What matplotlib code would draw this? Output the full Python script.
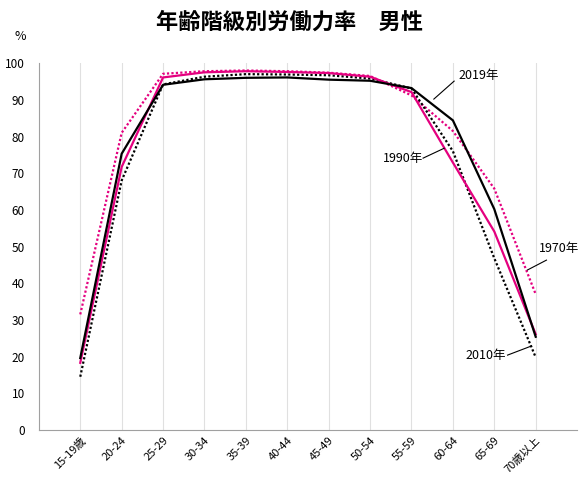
import matplotlib
matplotlib.use('Agg')
import matplotlib.pyplot as plt

plt.rcParams['font.family'] = ['Noto Sans CJK JP', 'DejaVu Sans']

# age groups
ages = ['15-19歳', '20-24', '25-29', '30-34', '35-39', '40-44', '45-49',
        '50-54', '55-59', '60-64', '65-69', '70歳以上']

# labour force participation rate (%), men
rate_1970 = [31.5, 81.0, 97.1, 97.8, 98.0, 97.8, 97.4, 96.5, 91.2, 81.5, 65.8, 37.0]
rate_1990 = [18.3, 71.7, 96.1, 97.5, 97.8, 97.6, 97.3, 96.3, 92.1, 72.9, 54.1, 26.1]
rate_2010 = [14.5, 68.0, 94.2, 96.3, 97.0, 96.9, 96.7, 95.8, 93.1, 76.0, 46.8, 19.8]
rate_2019 = [19.6, 75.3, 94.1, 95.6, 96.0, 96.1, 95.5, 95.2, 93.2, 84.4, 60.2, 25.4]

pink = '#E4007F'

fig = plt.figure(figsize=(5.8, 4.82), dpi=100)
ax = fig.add_axes([0.067, 0.108, 0.928, 0.761])

x = list(range(len(ages)))
ax.plot(x, rate_1970, color=pink, lw=1.6, linestyle=(0, (1, 1)))
ax.plot(x, rate_2010, color='black', lw=1.6, linestyle=(0, (1, 1)))
ax.plot(x, rate_1990, color=pink, lw=1.6)
ax.plot(x, rate_2019, color='black', lw=1.6)

ax.set_xlim(-1, len(ages))
ax.set_ylim(0, 100)
ax.set_yticks(range(0, 101, 10))
ax.set_xticks(x)
ax.set_xticklabels(ages, rotation=45, ha='right', rotation_mode='anchor', fontsize=8)
ax.tick_params(axis='y', labelsize=8.5, length=0, pad=10)
ax.tick_params(axis='x', length=0, pad=4)

ax.grid(True, axis='x', color='#e0e0e0', lw=0.8)
for s in ['top', 'right']:
    ax.spines[s].set_visible(False)
ax.spines['left'].set_color('#a0a0a0')
ax.spines['bottom'].set_color('#a0a0a0')

fig.text(0.5, 0.954, '年齢階級別労働力率　男性', ha='center', va='center',
         fontsize=16, fontweight='bold')
fig.text(0.035, 0.925, '%', ha='center', va='center', fontsize=9)

# series labels with leader lines
def tag(text, text_xy, ha, start, end):
    ax.text(text_xy[0], text_xy[1], text, fontsize=9, ha=ha, va='center')
    ax.plot([start[0], end[0]], [start[1], end[1]], color='black', lw=0.8)

tag('2019年', (9.13, 96.7), 'left', (9.03, 95.1), (8.54, 90.2))
tag('1990年', (8.28, 74.1), 'right', (8.28, 74.1), (8.79, 76.8))
tag('1970年', (11.07, 49.6), 'left', (11.26, 46.3), (10.80, 43.6))
tag('2010年', (10.29, 20.4), 'right', (10.32, 20.4), (10.90, 22.9))

fig.savefig('out.png', dpi=100, facecolor='white')
